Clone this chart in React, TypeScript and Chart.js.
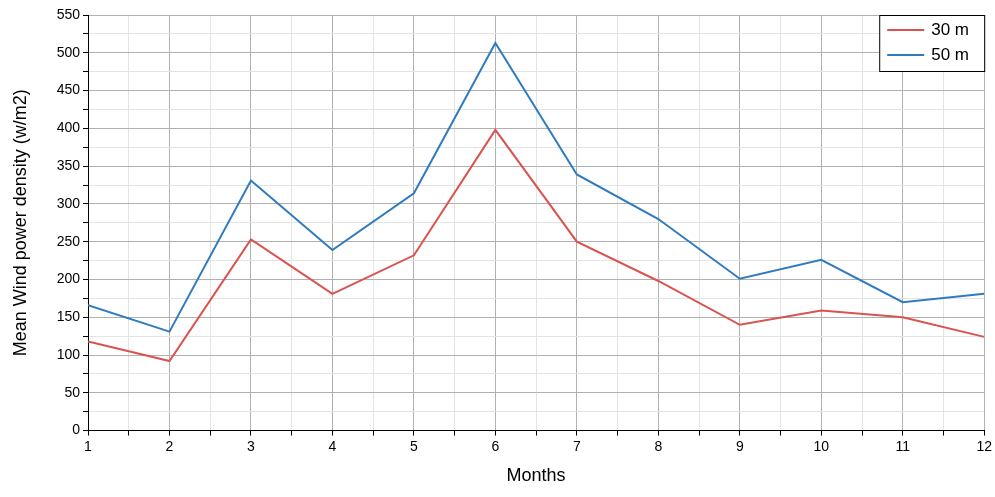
import React, { useEffect, useRef } from "react";
import { Chart, registerables } from "chart.js";
Chart.register(...registerables);

const months = [1, 2, 3, 4, 5, 6, 7, 8, 9, 10, 11, 12];
const series30 = [118, 92, 253, 181, 232, 398, 250, 198, 140, 159, 150, 124];
const series50 = [166, 131, 331, 239, 314, 513, 339, 280, 201, 226, 170, 181];
const labels = ["30 m", "50 m"];
const colors = ["#d9534f", "#2f7bbf"];

const legendBox = {
  id: "legendBox",
  afterDraw(chart: any) {
    const { ctx, chartArea } = chart;
    const w = 105, h = 56;
    const x = chartArea.right - w, y = chartArea.top;
    ctx.save();
    ctx.fillStyle = "#fff";
    ctx.fillRect(x, y, w, h);
    ctx.strokeStyle = "#000";
    ctx.lineWidth = 1;
    ctx.strokeRect(x + 0.5, y + 0.5, w, h);
    ctx.font = "17px Arial, 'Liberation Sans'";
    ctx.textBaseline = "middle";
    labels.forEach((l, i) => {
      const yy = y + 15 + i * 25;
      ctx.strokeStyle = colors[i];
      ctx.lineWidth = 2;
      ctx.beginPath();
      ctx.moveTo(x + 8, yy);
      ctx.lineTo(x + 45, yy);
      ctx.stroke();
      ctx.fillStyle = "#000";
      ctx.fillText(l, x + 52, yy);
    });
    ctx.restore();
  },
};

export default function App() {
  const ref = useRef<HTMLCanvasElement>(null);
  useEffect(() => {
    document.body.style.margin = "0";
    const mk = (d: number[]) => months.map((m, i) => ({ x: m, y: d[i] }));
    const chart = new Chart(ref.current!, {
      type: "line",
      data: {
        datasets: [
          { label: labels[0], data: mk(series30), borderColor: colors[0], borderWidth: 2, pointRadius: 0, tension: 0 },
          { label: labels[1], data: mk(series50), borderColor: colors[1], borderWidth: 2, pointRadius: 0, tension: 0 },
        ],
      },
      options: {
        animation: false,
        responsive: false,
        layout: { padding: { top: 15, right: 8, left: 6, bottom: 6 } },
        plugins: { legend: { display: false }, tooltip: { enabled: false } },
        scales: {
          x: {
            type: "linear",
            min: 1,
            max: 12,
            ticks: {
              stepSize: 0.5,
              autoSkip: false,
              maxRotation: 0,
              color: "#000",
              font: { size: 14, family: "Arial, 'Liberation Sans'" },
              callback: (v: any) => (Number.isInteger(v) ? String(v) : ""),
            },
            grid: {
              color: (c: any) => (Number.isInteger(c.tick?.value) ? "#b0b0b0" : "#e4e4e4"),
              tickColor: "#000",
              tickLength: 5,
            },
            border: { color: "#000", width: 1 },
            title: { display: true, text: "Months", color: "#000", font: { size: 18, family: "Arial, 'Liberation Sans'" }, padding: { top: 7 } },
          },
          y: {
            min: 0,
            max: 550,
            afterFit: (s: any) => { s.width = 82; },
            ticks: {
              stepSize: 25,
              autoSkip: false,
              color: "#000",
              font: { size: 14, family: "Arial, 'Liberation Sans'" },
              callback: (v: any) => (v % 50 === 0 ? String(v) : ""),
            },
            grid: {
              color: (c: any) => (c.tick?.value % 50 === 0 ? "#b0b0b0" : "#e4e4e4"),
              tickColor: "#000",
              tickLength: 5,
            },
            border: { color: "#000", width: 1 },
            title: { display: true, text: "Mean Wind power density (w/m2)", color: "#000", font: { size: 18, family: "Arial, 'Liberation Sans'" } },
          },
        },
      },
      plugins: [legendBox],
    });
    return () => chart.destroy();
  }, []);
  return <canvas ref={ref} width={995} height={497} style={{ display: "block" }} />;
}
